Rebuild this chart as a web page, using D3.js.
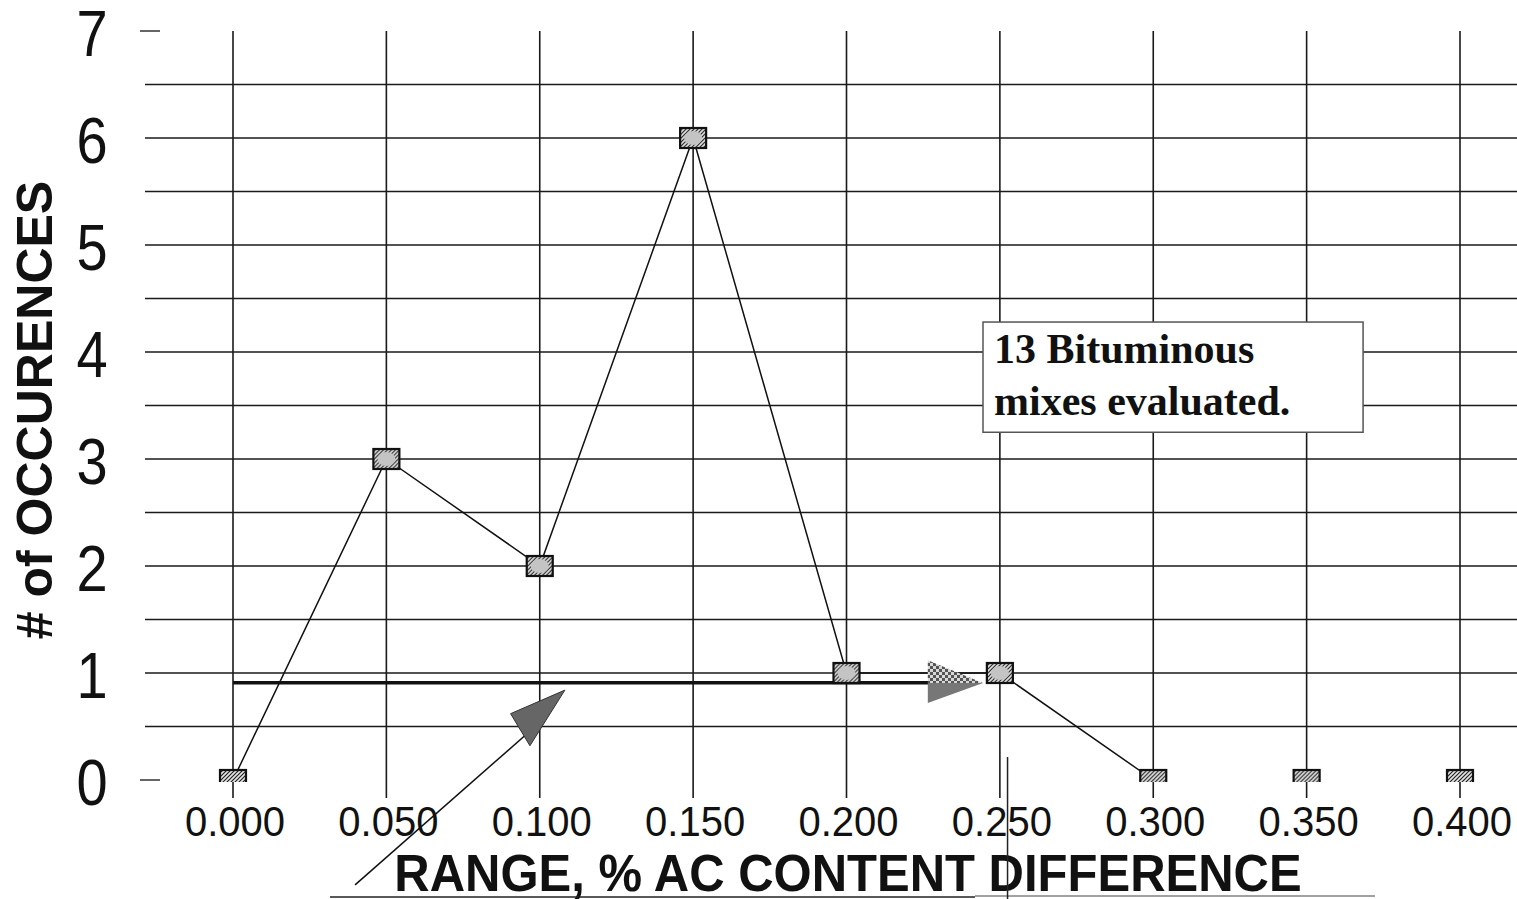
<!DOCTYPE html>
<html>
<head>
<meta charset="utf-8">
<script src="https://cdn.jsdelivr.net/npm/d3@7"></script>
<style>
  body { margin: 0; background: #fff; }
  svg { display: block; }
</style>
</head>
<body>
<script>
// chart values
const categories = ["0.000", "0.050", "0.100", "0.150", "0.200", "0.250", "0.300", "0.350", "0.400"];
const occurences = [0, 3, 2, 6, 1, 1, 0, 0, 0];
const lineEnd = 6;  // the connecting line stops at 0.300
const yTicks = [0, 1, 2, 3, 4, 5, 6, 7];
const gridY = [0.5, 1, 1.5, 2, 2.5, 3, 3.5, 4, 4.5, 5, 5.5, 6, 6.5];

// annotations in data units (x = % range, y = occurences)
const baseLine = [[0, 0.91], [0.228, 0.91]];
const rightArrow = [[0.2265, 1.12], [0.2445, 0.906], [0.2265, 0.72]];
const pointerLine = [[0.0398, -0.98], [0.1001, 0.54]];
const pointerHead = [[0.1082, 0.84], [0.0905, 0.62], [0.0968, 0.32]];
const noteBox = { x0: 0.2445, x1: 0.3684, y0: 4.28, y1: 3.25 };
const noteLines = ["13 Bituminous", "mixes evaluated."];

const W = 1517, H = 899;
const svg = d3.select("body").append("svg")
    .attr("width", W)
    .attr("height", H)
    .style("background", "#fff");

const x = d3.scalePoint().domain(categories).range([233, 1460]);
const xv = d3.scaleLinear().domain([0, 0.4]).range([233, 1460]);
const y = d3.scaleLinear().domain([0, 7]).range([780, 31]);

const defs = svg.append("defs");
const hatch = defs.append("pattern")
    .attr("id", "hatch")
    .attr("patternUnits", "userSpaceOnUse")
    .attr("width", 4).attr("height", 4);
hatch.append("rect").attr("width", 4).attr("height", 4).attr("fill", "#e4e4e4");
hatch.append("path").attr("d", "M-1,1L1,-1M0,4L4,0M3,5L5,3")
    .attr("stroke", "#222").attr("stroke-width", 1.2);

const checker = defs.append("pattern")
    .attr("id", "checker")
    .attr("patternUnits", "userSpaceOnUse")
    .attr("width", 6).attr("height", 6);
checker.append("rect").attr("width", 6).attr("height", 6).attr("fill", "#d8d8d8");
checker.append("rect").attr("width", 3).attr("height", 3).attr("fill", "#555");
checker.append("rect").attr("x", 3).attr("y", 3).attr("width", 3).attr("height", 3).attr("fill", "#555");

defs.append("clipPath").attr("id", "plotclip")
    .append("rect").attr("x", 0).attr("y", 0).attr("width", W).attr("height", y(0) + 2);

// horizontal grid
svg.append("g").selectAll("line")
    .data(gridY)
    .enter()
    .append("line")
    .attr("x1", 145).attr("x2", W)
    .attr("y1", d => y(d)).attr("y2", d => y(d))
    .attr("stroke", "#1a1a1a")
    .attr("stroke-width", 1.6);

// short ticks at 0 and 7
svg.append("g").selectAll("line")
    .data([0, 7])
    .enter()
    .append("line")
    .attr("x1", 140).attr("x2", 160)
    .attr("y1", d => y(d)).attr("y2", d => y(d))
    .attr("stroke", "#333")
    .attr("stroke-width", 1.5);

// vertical grid
svg.append("g").selectAll("line")
    .data(categories)
    .enter()
    .append("line")
    .attr("x1", d => x(d)).attr("x2", d => x(d))
    .attr("y1", y(7)).attr("y2", y(0) + 18)
    .attr("stroke", "#1a1a1a")
    .attr("stroke-width", 1.6);

// y tick labels
svg.append("g").selectAll("text")
    .data(yTicks)
    .enter()
    .append("text")
    .attr("transform", d => `translate(92,${y(d) + 1}) scale(1,1.17)`)
    .attr("dy", "0.36em")
    .attr("text-anchor", "middle")
    .attr("font-family", "'Liberation Sans', Arial, sans-serif")
    .attr("font-size", 56)
    .attr("fill", "#111")
    .text(d => d);

// x tick labels
svg.append("g").selectAll("text")
    .data(categories)
    .enter()
    .append("text")
    .attr("transform", d => `translate(${x(d) + 2},836) scale(1,1.05)`)
    .attr("text-anchor", "middle")
    .attr("font-family", "'Liberation Sans', Arial, sans-serif")
    .attr("font-size", 40)
    .attr("fill", "#111")
    .text(d => d);

// axis titles
svg.append("text")
    .attr("transform", "translate(848,891) scale(1,1.06)")
    .attr("text-anchor", "middle")
    .attr("font-family", "'Liberation Sans', Arial, sans-serif")
    .attr("font-weight", "bold")
    .attr("font-size", 49)
    .attr("fill", "#111")
    .text("RANGE, % AC CONTENT DIFFERENCE");

svg.append("text")
    .attr("transform", "translate(52,410) rotate(-90)")
    .attr("text-anchor", "middle")
    .attr("font-family", "'Liberation Sans', Arial, sans-serif")
    .attr("font-weight", "bold")
    .attr("font-size", 50)
    .attr("fill", "#111")
    .text("# of OCCURENCES");

// scan leftovers: frame edges under the x title
svg.append("line")
    .attr("x1", 330).attr("x2", 975).attr("y1", 897).attr("y2", 897)
    .attr("stroke", "#222").attr("stroke-width", 1.5);
svg.append("line")
    .attr("x1", 975).attr("x2", 1375).attr("y1", 896).attr("y2", 896)
    .attr("stroke", "#444").attr("stroke-width", 1.2);
svg.append("line")
    .attr("x1", xv(0.2525)).attr("x2", xv(0.2525)).attr("y1", 757).attr("y2", 899)
    .attr("stroke", "#222").attr("stroke-width", 1.5);

// base annotation line
const pt = p => [xv(p[0]), y(p[1])];
svg.append("path")
    .attr("d", d3.line()(baseLine.map(pt)))
    .attr("stroke", "#111")
    .attr("stroke-width", 3.5)
    .attr("fill", "none");

// data line
const plot = svg.append("g").attr("clip-path", "url(#plotclip)");
const pts = categories.map((c, i) => ({ c: c, v: occurences[i] }));
plot.append("path")
    .attr("d", d3.line().x(d => x(d.c)).y(d => y(d.v))(pts.slice(0, lineEnd + 1)))
    .attr("fill", "none")
    .attr("stroke", "#111")
    .attr("stroke-width", 1.5);

// markers
const mk = plot.selectAll("g.marker")
    .data(pts)
    .enter()
    .append("g")
    .attr("class", "marker")
    .attr("transform", d => `translate(${x(d.c)},${y(d.v)})`);
mk.append("rect")
    .attr("x", -13).attr("y", -10).attr("width", 26).attr("height", 20)
    .attr("fill", "url(#hatch)")
    .attr("stroke", "#111")
    .attr("stroke-width", 2.2);
mk.filter(d => d.v > 0).append("ellipse")
    .attr("rx", 9).attr("ry", 7)
    .attr("fill", "#c4c4c4");

// right-pointing arrow head
const ra = rightArrow.map(pt);
svg.append("path")
    .attr("d", d3.line()([ra[0], ra[1], [ra[0][0], ra[1][1]]]) + "Z")
    .attr("fill", "url(#checker)");
svg.append("path")
    .attr("d", d3.line()([[ra[2][0], ra[1][1]], ra[1], ra[2]]) + "Z")
    .attr("fill", "#777");

// pointer arrow from below
svg.append("path")
    .attr("d", d3.line()(pointerLine.map(pt)))
    .attr("stroke", "#111")
    .attr("stroke-width", 1.5)
    .attr("fill", "none");
svg.append("path")
    .attr("d", d3.line()(pointerHead.map(pt)) + "Z")
    .attr("fill", "#666")
    .attr("stroke", "#333")
    .attr("stroke-width", 1);

// note box
svg.append("rect")
    .attr("x", xv(noteBox.x0))
    .attr("y", y(noteBox.y0))
    .attr("width", xv(noteBox.x1) - xv(noteBox.x0))
    .attr("height", y(noteBox.y1) - y(noteBox.y0))
    .attr("fill", "#fff")
    .attr("stroke", "#555")
    .attr("stroke-width", 1.5);
svg.append("g").selectAll("text")
    .data(noteLines)
    .enter()
    .append("text")
    .attr("x", xv(noteBox.x0) + 11)
    .attr("y", (d, i) => y(noteBox.y0) + 41 + i * 52)
    .attr("font-family", "'Liberation Serif', 'Times New Roman', serif")
    .attr("font-weight", "bold")
    .attr("font-size", 42)
    .attr("fill", "#111")
    .text(d => d);
</script>
</body>
</html>
